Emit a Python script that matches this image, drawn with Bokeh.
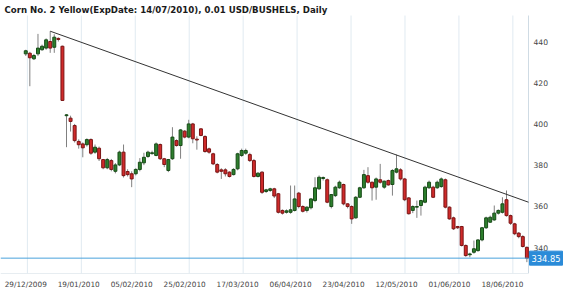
from bokeh.plotting import figure
from bokeh.models import Range1d, FixedTicker, ColumnDataSource
from bokeh.core.properties import value
from bokeh.embed import file_html
from bokeh.resources import INLINE

TITLE = "Corn  No. 2 Yellow(ExpDate: 14/07/2010), 0.01 USD/BUSHELS, Daily"

opens = [434.0, 434.3, 431.6, 434.0, 436.0, 436.8, 440.0, 437.2, 441.5, 437.7,
         404.0, 402.8, 399.2, 391.5, 390.3, 389.9, 392.4, 386.3, 388.2, 382.7,
         378.7, 382.2, 377.0, 380.1, 386.3, 376.9, 375.8, 375.8, 377.9, 381.1,
         384.2, 385.6, 384.7, 390.0, 383.1, 377.4, 383.1, 391.9, 389.5, 396.5,
         393.6, 400.0, 392.6, 397.6, 393.9, 387.9, 385.5, 380.3, 377.7, 377.7,
         376.6, 375.4, 378.2, 384.7, 385.8, 385.1, 382.2, 374.5, 376.6, 367.2,
         367.7, 368.5, 366.1, 358.0, 357.1, 357.1, 358.0, 366.4, 359.9, 358.0,
         359.3, 362.8, 368.5, 373.5, 372.9, 359.9, 365.2, 369.0, 370.6, 361.2,
         359.9, 354.4, 364.4, 369.0, 374.9, 371.7, 369.3, 372.9, 369.3, 372.5,
         370.6, 376.6, 377.7, 373.3, 364.1, 358.0, 359.6, 360.4, 362.0, 369.0,
         369.3, 369.0, 369.6, 372.9, 359.6, 354.4, 350.2, 350.2, 341.0, 336.5,
         337.7, 338.5, 343.7, 349.6, 352.3, 353.4, 356.7, 357.1, 363.2, 355.5,
         351.5, 347.0, 345.3, 340.1]
highs = [436.0, 435.0, 434.0, 443.7, 438.5, 441.5, 445.0, 443.5, 442.0, 438.0,
         404.8, 404.0, 400.0, 392.5, 391.0, 393.0, 393.0, 390.0, 389.0, 383.0,
         383.5, 383.0, 381.0, 387.0, 390.0, 378.0, 377.0, 378.5, 383.4, 386.0,
         387.0, 387.0, 391.0, 390.5, 383.5, 383.0, 398.4, 392.5, 397.5, 397.0,
         402.0, 400.5, 394.0, 398.0, 394.5, 388.5, 386.0, 381.0, 378.5, 378.5,
         377.0, 378.5, 386.0, 388.0, 388.0, 386.0, 383.0, 376.5, 377.0, 368.5,
         369.0, 369.0, 366.5, 358.5, 358.5, 370.1, 370.1, 367.0, 360.5, 360.0,
         364.0, 374.1, 375.0, 374.5, 373.5, 366.0, 370.0, 372.5, 371.0, 361.5,
         360.5, 365.0, 369.5, 377.7, 379.0, 372.0, 374.0, 380.6, 372.5, 373.0,
         378.0, 385.1, 378.5, 373.8, 364.5, 360.5, 362.8, 363.2, 370.0, 372.5,
         370.0, 372.5, 374.0, 373.5, 360.0, 355.0, 350.5, 350.5, 341.5, 337.5,
         343.4, 344.0, 350.0, 355.0, 355.5, 360.4, 358.5, 364.4, 367.7, 356.0,
         352.0, 347.5, 346.0, 340.5]
lows = [433.0, 418.3, 431.0, 433.0, 435.5, 436.0, 434.5, 434.5, 440.0, 411.4,
        388.7, 396.3, 391.0, 388.0, 383.8, 389.0, 385.0, 385.5, 382.0, 378.0,
        378.0, 377.0, 376.0, 379.5, 374.0, 374.5, 369.3, 375.0, 377.0, 380.0,
        383.5, 385.0, 384.3, 382.5, 379.0, 376.6, 382.5, 389.0, 383.1, 393.0,
        393.0, 390.6, 387.5, 394.0, 386.0, 385.5, 380.0, 376.0, 373.3, 374.5,
        374.0, 375.0, 377.5, 384.0, 385.0, 381.5, 374.0, 374.0, 366.0, 366.5,
        367.0, 364.0, 356.5, 356.0, 356.5, 356.4, 357.5, 359.0, 357.0, 357.0,
        358.5, 362.0, 368.0, 372.5, 361.5, 359.0, 364.5, 368.5, 360.5, 359.0,
        351.5, 354.0, 364.0, 368.5, 371.0, 362.8, 363.2, 371.0, 368.5, 370.0,
        365.2, 376.0, 372.5, 362.5, 356.0, 356.7, 354.4, 355.5, 361.5, 368.5,
        364.0, 368.5, 369.0, 359.0, 353.5, 348.5, 349.0, 340.5, 335.5, 335.3,
        337.0, 338.0, 343.0, 349.0, 352.0, 353.0, 356.0, 356.5, 355.0, 351.0,
        346.0, 344.5, 340.0, 332.9]
closes = [435.5, 432.1, 433.2, 436.8, 437.7, 440.8, 436.8, 442.1, 441.0, 411.4,
          404.4, 401.2, 391.9, 389.9, 388.4, 392.4, 385.8, 388.7, 383.1, 378.7,
          382.7, 377.9, 380.1, 386.3, 374.9, 375.4, 373.3, 377.9, 381.4, 383.8,
          386.3, 386.0, 390.3, 383.1, 380.3, 382.7, 393.6, 389.5, 397.1, 393.6,
          400.0, 392.8, 392.2, 394.4, 386.6, 386.3, 380.6, 376.6, 377.0, 375.8,
          374.5, 377.9, 385.5, 387.1, 387.1, 382.2, 374.5, 376.1, 366.8, 368.0,
          368.5, 365.0, 357.1, 356.7, 357.8, 358.3, 363.6, 359.9, 357.6, 359.6,
          363.6, 369.0, 374.1, 374.0, 362.0, 365.7, 369.3, 371.7, 361.2, 359.9,
          353.9, 364.4, 369.0, 375.4, 371.7, 369.0, 373.3, 371.7, 372.2, 370.4,
          377.4, 378.2, 373.3, 363.2, 356.4, 359.9, 359.9, 362.8, 369.3, 371.7,
          364.4, 371.7, 373.3, 359.6, 353.9, 349.1, 349.6, 341.0, 336.1, 336.9,
          339.4, 343.7, 349.6, 354.4, 354.7, 356.7, 358.0, 361.2, 355.5, 351.8,
          346.7, 345.3, 340.5, 334.85]

date_labels = ["29/12/2009", "19/01/2010", "05/02/2010", "25/02/2010", "17/03/2010",
               "06/04/2010", "23/04/2010", "12/05/2010", "01/06/2010", "18/06/2010"]
y_ticks = [340, 360, 380, 400, 420, 440]
trend_x = [6, 123.4]
trend_y = [445.0, 362.0]
last_price = 334.85

n = len(opens)
idx = list(range(n))
up = [c >= o for o, c in zip(opens, closes)]
src = ColumnDataSource(dict(
    x=idx,
    top=[max(o, c) for o, c in zip(opens, closes)],
    bottom=[min(o, c) for o, c in zip(opens, closes)],
    high=highs, low=lows,
    fill=["#2d7f2d" if u else "#d02a2a" for u in up],
    edge=["#174a17" if u else "#7a1414" for u in up],
))

W, H = 570, 295
BOTTOM = 22
FONT = value("DejaVu Sans")
x_start, x_axis = -6.2, 123.4          # price panel spans x_start .. x_axis (528 px)
px_per_unit = 528 / (x_axis - x_start)
x_stop = x_start + W / px_per_unit
y_lo, y_hi = 327.4, 459.9               # frame covers canvas rows 0 .. 273
py_per_unit = (H - BOTTOM) / (y_hi - y_lo)
y_panel_top = y_hi - 15 / py_per_unit   # price panel starts 15 px below the top

p = figure(width=W, height=H, output_backend="svg", toolbar_location=None,
           x_range=Range1d(x_start, x_stop), y_range=Range1d(y_lo, y_hi),
           y_axis_location=None, min_border_left=0, min_border_right=0,
           min_border_top=0, min_border_bottom=BOTTOM)
p.outline_line_color = None
p.background_fill_color = "white"
p.border_fill_color = "white"
p.grid.visible = False

p.xaxis.ticker = FixedTicker(ticks=[13 * k for k in range(len(date_labels))])
p.xaxis.major_label_overrides = {13 * k: lab for k, lab in enumerate(date_labels)}
p.xaxis.major_tick_in = 0
p.xaxis.major_tick_out = 0
p.xaxis.minor_tick_in = 0
p.xaxis.minor_tick_out = 0
p.xaxis.axis_line_color = None
p.xaxis.major_label_text_font = "DejaVu Sans"
p.xaxis.major_label_text_color = "#444444"
p.xaxis.major_label_text_font_size = "7.3px"
p.xaxis.major_label_standoff = 6

# vertical grid lines (evenly spaced, as in the source chart)
gx = [0.4 + 13.24 * k for k in range(len(date_labels))]
p.segment(x0=gx, y0=[y_lo] * len(gx), x1=gx, y1=[y_panel_top] * len(gx),
          line_color="#e0eaf1", line_width=1)

# panel border (bottom and right price axis)
p.segment(x0=[x_start, x_axis], y0=[y_lo, y_lo], x1=[x_axis, x_axis], y1=[y_lo, y_panel_top],
          line_color="#cfdbe4", line_width=1)

p.segment(x0="x", y0="low", x1="x", y1="high", source=src, line_color="#808080", line_width=1)
p.vbar(x="x", width=0.72, top="top", bottom="bottom", source=src,
       fill_color="fill", line_color="edge", line_width=1)

p.line(trend_x, trend_y, line_color="#333333", line_width=1)
p.segment(x0=[x_start], y0=[last_price], x1=[x_axis], y1=[last_price],
          line_color="#4aa2dc", line_width=1)

# title
p.text(x=[x_start], y=[y_hi], text=[TITLE], x_offset=4, y_offset=9,
       text_baseline="middle", text_align="left", text_font=FONT,
       text_font_style="bold", text_font_size=value("8.6px"), text_color="#1a1a1a")

# right price axis labels
p.text(x=[x_axis] * len(y_ticks), y=y_ticks, text=[str(t) for t in y_ticks],
       x_offset=5, text_baseline="middle", text_align="left",
       text_font=FONT, text_font_size=value("7.6px"), text_color="#444444")

# last price box
box_w = 33
bx = x_axis + (1 + box_w / 2) / px_per_unit
p.rect(x=[bx], y=[last_price], width=box_w, height=14, width_units="screen",
       height_units="screen", fill_color="#2a8bd8", line_color="#2a8bd8")
p.text(x=[bx], y=[last_price], text=[f"{last_price:.2f}"], text_align="center",
       text_baseline="middle", text_font=FONT, text_font_size=value("8.3px"),
       text_color="white")

open("out.html", "w").write(file_html(p, INLINE))
